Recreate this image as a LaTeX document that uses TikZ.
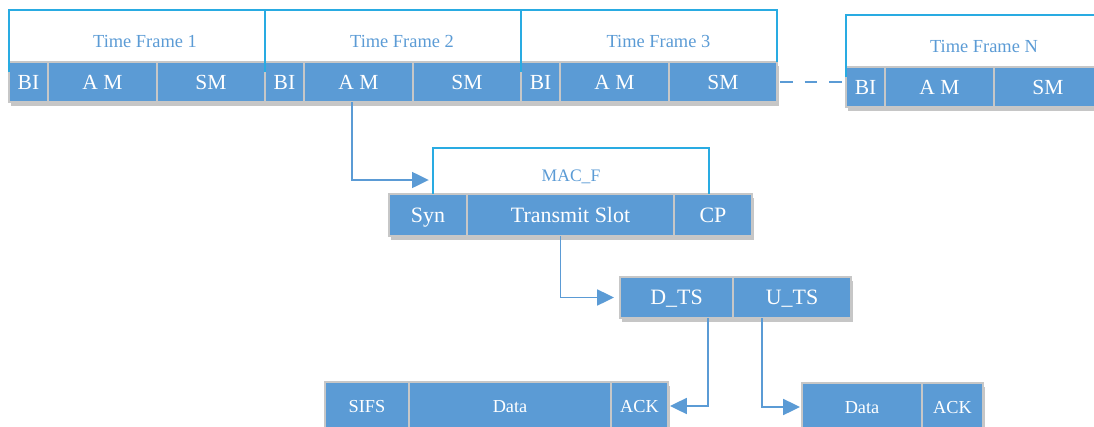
\documentclass[tikz,border=0pt]{standalone}
\usepackage{fontspec}
\setmainfont{Liberation Serif}
\usetikzlibrary{arrows.meta,calc,positioning,shadows}
\definecolor{cellblue}{RGB}{91,155,213}
\definecolor{framecyan}{RGB}{41,171,226}
\colorlet{cellborder}{black!22}
\tikzset{
  cell/.style={
      draw=cellborder, line width=1pt, fill=cellblue, text=white,
      inner sep=0pt, outer sep=0pt, text depth=0pt,
      drop shadow={shadow xshift=0.06cm, shadow yshift=-0.1cm,
          fill=black!50, opacity=0.45}
    },
  top cell/.style={cell, minimum height=1cm, text height=10.1pt,
      font=\fontsize{15.3}{17}\selectfont},
  mid cell/.style={cell, text height=10.3pt,
      font=\fontsize{15.6}{18}\selectfont},
  low cell/.style={cell, minimum height=1.2cm, text height=8.6pt,
      font=\fontsize{13}{15}\selectfont},
  frame line/.style={draw=framecyan, line width=1.2pt},
  frame label/.style={text=cellblue, font=\fontsize{13.1}{15}\selectfont},
  slot arrow/.style={
      draw=cellblue, line width=1.2pt,
        -{Triangle[length=4.2mm,width=4mm]}
    }
}
\begin{document}
\begin{tikzpicture}

  \useasboundingbox (0,0) rectangle (27.35,-10.675);

  % ------------------------------------------------------------------
  % Time frames 1..3 and N.
  % ------------------------------------------------------------------
  \node[top cell, anchor=north west, minimum width=0.975cm] (bi1) at (0.225,-1.55) {BI};
  \node[top cell, right=0pt of bi1, minimum width=2.725cm] (am1) {A M};
  \node[top cell, right=0pt of am1, minimum width=2.7cm] (sm1) {SM};
  \node[top cell, right=0pt of sm1, minimum width=0.975cm] (bi2) {BI};
  \node[top cell, right=0pt of bi2, minimum width=2.725cm] (am2) {A M};
  \node[top cell, right=0pt of am2, minimum width=2.7cm] (sm2) {SM};
  \node[top cell, right=0pt of sm2, minimum width=0.975cm] (bi3) {BI};
  \node[top cell, right=0pt of bi3, minimum width=2.725cm] (am3) {A M};
  \node[top cell, right=0pt of am3, minimum width=2.7cm] (sm3) {SM};

  \node[top cell, anchor=north west, minimum width=0.975cm] (biN) at (21.15,-1.675) {BI};
  \node[top cell, right=0pt of biN, minimum width=2.725cm] (amN) {A M};
  \node[top cell, right=0pt of amN, minimum width=2.7cm] (smN) {SM};

  \draw[frame line] ($(bi1.north west)+(0,-0.25)$) -- ++(0,1.55) -| ($(sm1.north east)+(0,-0.25)$);
  \draw[frame line] ($(bi2.north west)+(0,-0.25)$) -- ++(0,1.55) -| (sm2.north east);
  \draw[frame line] ($(bi3.north west)+(0,-0.25)$) -- ++(0,1.55) -| (sm3.north east);
  \draw[frame line] ($(biN.north west)+(0,-0.25)$) -- ++(0,1.55) -| (smN.north east);

  \node[frame label] (tf1) at (3.625,-1.025) {Time Frame 1};
  \node[frame label] (tf2) at (10.05,-1.025) {Time Frame 2};
  \node[frame label] (tf3) at (16.46,-1.025) {Time Frame 3};
  \node[frame label] (tfN) at (24.6,-1.15) {Time Frame N};

  \draw[draw=cellblue, line width=2pt, dash pattern=on 0.32cm off 0.3cm]
  ($(sm3.east)+(0.07,0)$) -- ($(sm3.east -| biN.west)+(-0.05,0)$);

  % ------------------------------------------------------------------
  % MAC frame of the active period.
  % ------------------------------------------------------------------
  \node[mid cell, anchor=north west, minimum height=1.05cm, minimum width=1.95cm]
  (syn) at (9.725,-4.85) {Syn};
  \node[mid cell, right=0pt of syn, minimum height=1.05cm, minimum width=5.175cm]
  (ts) {Transmit Slot};
  \node[mid cell, right=0pt of ts, minimum height=1.05cm, minimum width=1.95cm]
  (cp) {CP};

  \draw[frame line] ($(syn.north west)+(1.1,0)$) -- ++(0,1.15)
  -| ($(cp.north west)+(0.875,0)$);
  \node[frame label, font=\fontsize{12.5}{15}\selectfont] (macf) at (14.275,-4.425) {MAC\_F};

  \coordinate (macin) at (10.72,-4.5);
  \draw[slot arrow] ($(am2.south)+(-0.16,0)$) |- (macin);

  % ------------------------------------------------------------------
  % Downlink / uplink slots.
  % ------------------------------------------------------------------
  \node[mid cell, anchor=north west, minimum height=1.025cm, minimum width=2.825cm]
  (dts) at (15.5,-6.925) {D\_TS};
  \node[mid cell, right=0pt of dts, minimum height=1.025cm, minimum width=2.95cm]
  (uts) {U\_TS};

  \draw[slot arrow, shorten >=0.15cm] ($(ts.south)+(-0.25,0)$) |- (dts.west);

  % ------------------------------------------------------------------
  % Contents of the two slots.
  % ------------------------------------------------------------------
  \node[low cell, anchor=north west, minimum width=2.1cm] (sifs) at (8.125,-9.55) {SIFS};
  \node[low cell, right=0pt of sifs, minimum width=5.05cm] (ddata) {Data};
  \node[low cell, right=0pt of ddata, minimum width=1.425cm] (dack) {ACK};

  \node[low cell, anchor=north west, minimum width=3.0cm] (udata) at (20.05,-9.575) {Data};
  \node[low cell, right=0pt of udata, minimum width=1.525cm] (uack) {ACK};

  \draw[slot arrow, shorten >=0.05cm] ($(dts.south east)+(-0.625,0)$) |- (dack.east);
  \draw[slot arrow, shorten >=0.05cm] ($(uts.south west)+(0.725,0)$) |- (udata.west);

\end{tikzpicture}
\end{document}
